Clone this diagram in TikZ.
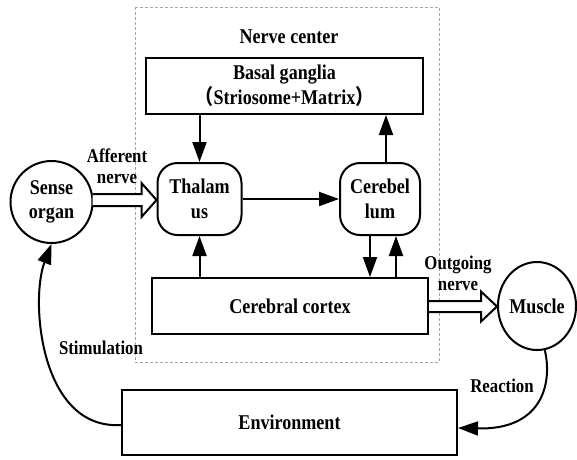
\documentclass[tikz,border=0pt]{standalone}
\usepackage{fontspec}
\setmainfont{Liberation Serif}[FakeStretch=0.86]
\newfontfamily\cjk{Noto Sans CJK SC}[FakeStretch=0.86]
\usetikzlibrary{arrows.meta,calc,shapes.geometric}
\begin{document}
\begin{tikzpicture}[x=1pt,y=-1pt,
  every node/.style={font=\fontsize{21}{24.5}\selectfont\bfseries, align=center, inner sep=0pt},
  arr/.style={line width=2pt, -{Triangle[length=20pt,width=14pt]}},
  blk/.style={draw, line width=2pt},
  rbox/.style={draw, line width=2pt, rounded corners=20pt, minimum width=84pt, minimum height=72pt},
  hollow/.style={draw, line width=2pt, fill=white, line join=miter},
  lbl/.style={font=\fontsize{19.5}{21}\selectfont\bfseries}]
\useasboundingbox (0,0) rectangle (577,459);
% nerve center frame
\draw[gray!70, line width=0.8pt, dash pattern=on 3pt off 2pt] (135,7) rectangle (439,362);
\node (nc) at (289,37) {Nerve center};
% nodes
\node[blk, minimum width=277pt, minimum height=56pt] (basal) at (284.5,86)
  {Basal ganglia\\{\cjk （}Striosome+Matrix{\cjk ）}};
\node[rbox] (thal) at (199.5,199) {Thalam\\us};
\node[rbox, minimum width=80pt] (cereb) at (380,199) {Cerebel\\lum};
\node[blk, minimum width=276pt, minimum height=56pt] (cortex) at (290,306) {Cerebral cortex};
\node[blk, minimum width=335pt, minimum height=65pt] (env) at (289.5,422.5) {Environment};
\node[draw, circle, line width=2pt, minimum size=82pt] (sense) at (51.5,202) {Sense\\organ};
\node[draw, ellipse, line width=2pt, minimum width=78pt, minimum height=88pt] (muscle) at (537,306) {Muscle};
% internal arrows
\draw[arr] (basal.south -| thal.north) -- (thal.north);
\draw[arr] ($(cereb.north)+(6,0)$) -- ($(cereb.north |- basal.south)+(6,0)$);
\draw[arr] (thal.east) -- (cereb.west);
\draw[arr] (cortex.north -| thal.south) -- (thal.south);
\draw[arr] ($(cereb.south)+(-10,0)$) -- ($(cereb.south |- cortex.north)+(-10,0)$);
\draw[arr] ($(cortex.north -| cereb.south)+(16,0)$) -- ($(cereb.south)+(16,0)$);
% hollow arrows
\coordinate (a0) at ($(sense.east)+(-1,-2)$);
\coordinate (atip) at ($(thal.west)+(0,1)$);
\draw[hollow] ($(a0)+(0,-6)$) -- ($(atip)+(-15,-6)$) -- ($(atip)+(-15,-17)$) -- (atip)
  -- ($(atip)+(-15,17)$) -- ($(atip)+(-15,6)$) -- ($(a0)+(0,6)$);
\coordinate (b0) at ($(cortex.east)+(0,0.5)$);
\coordinate (btip) at ($(muscle.west)+(0,0.5)$);
\draw[hollow] ($(b0)+(0,-5.5)$) -- ($(btip)+(-16,-5.5)$) -- ($(btip)+(-16,-15)$) -- (btip)
  -- ($(btip)+(-16,15)$) -- ($(btip)+(-16,5.5)$) -- ($(b0)+(0,5.5)$);
% outer loop
\draw[arr] ($(env.west)+(0,2.5)$) .. controls (40,430) and (30,300) .. (sense.south);
\draw[arr] (muscle.-80) .. controls (552,380) and (545,430) .. ($(env.east)+(0,5.5)$);
% labels
\node[lbl] (aff) at (117,166.5) {Afferent\\nerve};
\node[lbl] (out) at (458,273.5) {Outgoing\\nerve};
\node[lbl] (stim) at (101,348) {Stimulation};
\node[lbl] (react) at (502,386) {Reaction};
\end{tikzpicture}
\end{document}
